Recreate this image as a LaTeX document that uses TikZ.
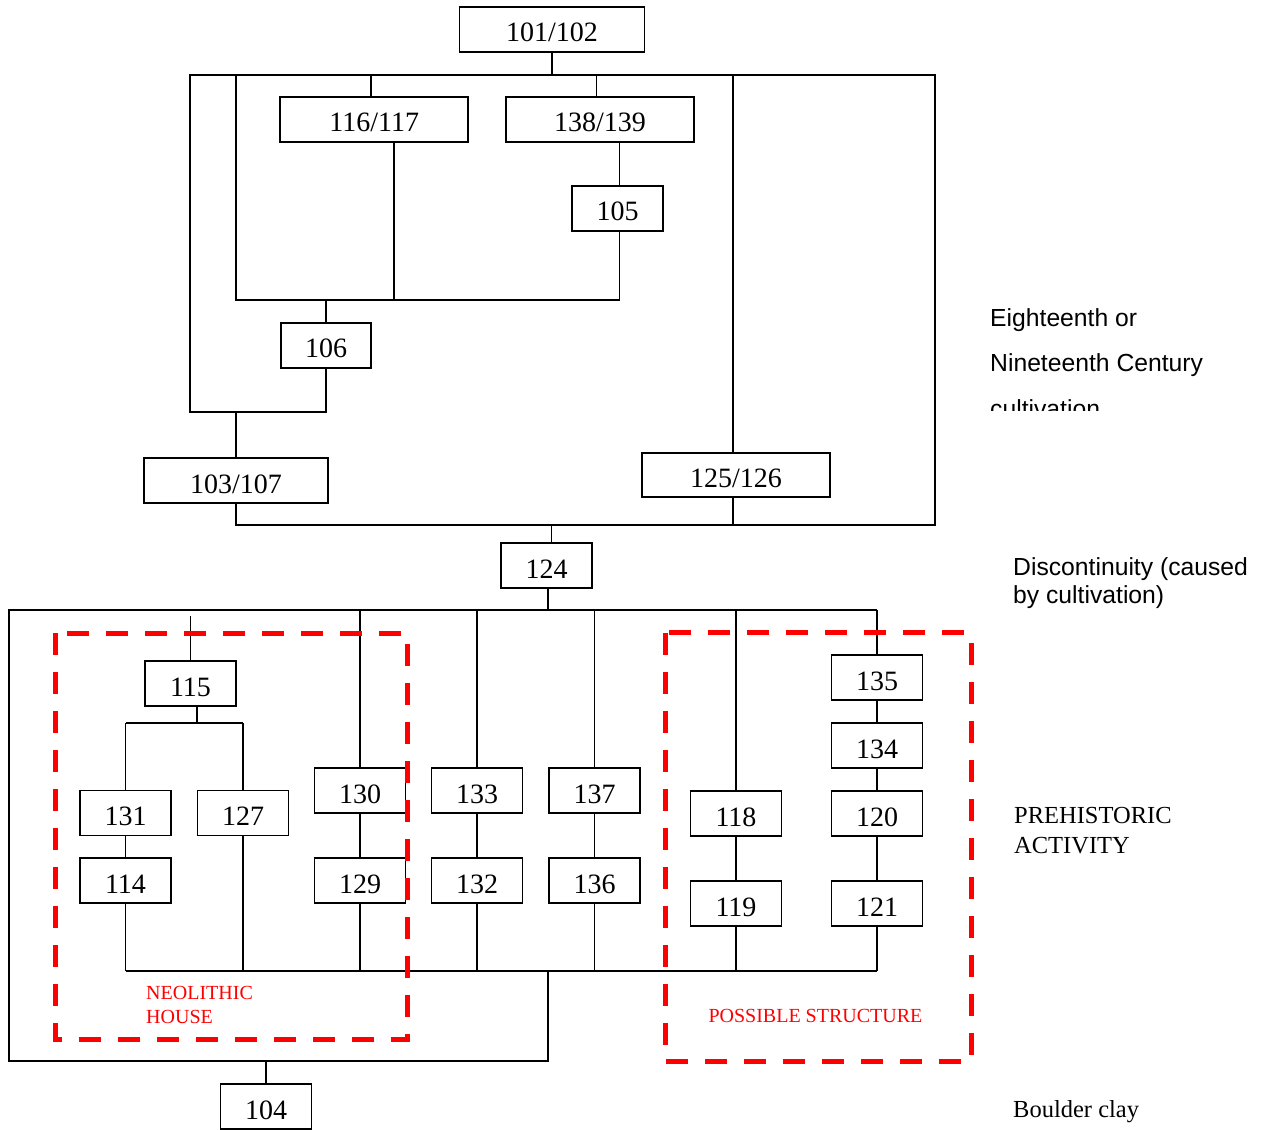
\documentclass[tikz,border=0pt]{standalone}
\usepackage{fontspec}
\setmainfont{Liberation Serif}
\newfontfamily\arialf{Liberation Sans}
\begin{document}
\begin{tikzpicture}[x=1pt,y=-1pt,
  conn/.style={line width=1.6pt, black},
  bx/.style={draw, line width=1.7pt, rectangle, inner sep=0pt,
    minimum height=45pt, minimum width=91pt, text height=25pt, text depth=0pt,
    font=\fontsize{28pt}{28pt}\selectfont},
  wide/.style={minimum width=188pt},
  reddash/.style={draw=red, line width=5pt, dash pattern=on 22pt off 17pt},
  redlbl/.style={text=red, inner sep=0pt, anchor=base west, font=\fontsize{20pt}{20pt}\selectfont},
  serlbl/.style={inner sep=0pt, anchor=base west, font=\fontsize{24.5pt}{24.5pt}\selectfont},
  sanlbl/.style={inner sep=0pt, anchor=base west, font=\arialf\fontsize{24.7pt}{24.7pt}\selectfont}]
\useasboundingbox (0,0) rectangle (1274,1131);
\fill[white] (0,0) rectangle (1274,1131);

% ---------- rails
\coordinate (T75) at (0,75);
\coordinate (T300) at (0,300);
\coordinate (T412) at (0,412);
\coordinate (T525) at (0,525);
\coordinate (rT) at (0,610);
\coordinate (rM) at (0,723);
\coordinate (rB) at (0,971);

% ---------- upper boxes
\node[bx, minimum width=185pt] (b101) at (552,29.5) {101/102};
\node[bx, wide] (b116) at (374.3,119.5) {116/117};
\node[bx, wide] (b138) at (600,119.5) {138/139};
\node[bx] (b105) at (617.5,208.5) {105};
\node[bx, minimum width=90pt] (b106) at (326,345.5) {106};
\node[bx, minimum width=184pt] (b103) at (236,480.5) {103/107};
\node[bx, wide, minimum height=44pt] (b125) at (736,475) {125/126};
\node[bx] (b124) at (546.5,565.5) {124};

% ---------- lower boxes
\node[bx] (b115) at (190.5,683.5) {115};
\node[bx] (b131) at (125.5,813) {131};
\node[bx] (b127) at (243,813) {127};
\node[bx] (b130) at (360,790.5) {130};
\node[bx] (b133) at (477,790.5) {133};
\node[bx] (b137) at (594.5,790.5) {137};
\node[bx] (b118) at (736,813.5) {118};
\node[bx] (b135) at (877,677.5) {135};
\node[bx] (b134) at (877,745.5) {134};
\node[bx] (b120) at (877,813.5) {120};
\node[bx] (b114) at (125.5,880.5) {114};
\node[bx] (b129) at (360,880.5) {129};
\node[bx] (b132) at (477,880.5) {132};
\node[bx] (b136) at (594.5,880.5) {136};
\node[bx] (b119) at (736,903.5) {119};
\node[bx] (b121) at (877,903.5) {121};
\node[bx] (b104) at (266,1106.5) {104};

% ---------- upper connectors
\coordinate (o1) at (190,75);
\coordinate (o2) at (935,75);
\coordinate (o3) at (935,525);
\coordinate (o4) at (190,412);
\coordinate (i1) at (236,75);
\coordinate (i2) at (236,300);
\coordinate (i3) at (619.3,300);
\coordinate (j116) at (393.7,300);
\coordinate (s116n) at ([xshift=-3.6pt]b116.north);
\coordinate (s116s) at ([xshift=19.4pt]b116.south);
\coordinate (s138n) at ([xshift=-3.7pt]b138.north);
\coordinate (s138s) at ([xshift=19.3pt]b138.south);
\coordinate (s105n) at ([xshift=1.8pt]b105.north);
\coordinate (s105s) at ([xshift=1.8pt]b105.south);
\coordinate (s125n) at ([xshift=-3pt]b125.north);
\coordinate (s125s) at ([xshift=-3pt]b125.south);
\coordinate (s124n) at ([xshift=4.8pt]b124.north);
\coordinate (s124s) at ([xshift=1.5pt]b124.south);

\draw[conn] (b101.south) -- (b101.south |- T75);
\draw[conn] (b106.south) -- (b106.south |- T412) -- (o4) -- (o1) -- (o2) -- (o3) -- (b103.south |- T525) -- (b103.south);
\draw[conn] (b103.north) -- (b103.north |- T412);
\draw[conn] (i1) -- (i2) -- (i3) -- (s105s);
\draw[conn] (s105n) -- (s138s);
\draw[conn] (s138n) -- (s138n |- T75);
\draw[conn] (s116n) -- (s116n |- T75);
\draw[conn] (s116s) -- (j116);
\draw[conn] (b106.north) -- (b106.north |- T300);
\draw[conn] (s125n) -- (s125n |- T75);
\draw[conn] (s125s) -- (s125s |- T525);
\draw[conn] (s124n) -- (s124n |- T525);

% ---------- lower connectors
\coordinate (L1) at (9,610);
\coordinate (L2) at (9,1061);
\coordinate (L3) at (548,1061);
\coordinate (L4) at (548,971);
\coordinate (f115) at (190.5,616);
\coordinate (s115) at ([xshift=6.5pt]b115.south);

\draw[conn] (s124s) -- (s124s |- rT);
\draw[conn] (b135.north |- rT) -- (L1) -- (L2) -- (L3) -- (L4);
\draw[conn] (b114.south |- rB) -- (b121.south |- rB);
\draw[conn] (b104.north) -- (b104.north |- L2);

\draw[conn] (f115) -- (b115.north);
\draw[conn] (s115) -- (s115 |- rM);
\draw[conn] (b131.north |- rM) -- (b127.north |- rM);
\draw[conn] (b131.north |- rM) -- (b131.north);
\draw[conn] (b127.north |- rM) -- (b127.north);
\draw[conn] (b131.south) -- (b114.north);
\draw[conn] (b114.south) -- (b114.south |- rB);
\draw[conn] (b127.south) -- (b127.south |- rB);

\draw[conn] (b130.north |- rT) -- (b130.north);
\draw[conn] (b130.south) -- (b129.north);
\draw[conn] (b129.south) -- (b129.south |- rB);
\draw[conn] (b133.north |- rT) -- (b133.north);
\draw[conn] (b133.south) -- (b132.north);
\draw[conn] (b132.south) -- (b132.south |- rB);
\draw[conn] (b137.north |- rT) -- (b137.north);
\draw[conn] (b137.south) -- (b136.north);
\draw[conn] (b136.south) -- (b136.south |- rB);
\draw[conn] (b118.north |- rT) -- (b118.north);
\draw[conn] (b118.south) -- (b119.north);
\draw[conn] (b119.south) -- (b119.south |- rB);
\draw[conn] (b135.north |- rT) -- (b135.north);
\draw[conn] (b135.south) -- (b134.north);
\draw[conn] (b134.south) -- (b120.north);
\draw[conn] (b120.south) -- (b121.north);
\draw[conn] (b121.south) -- (b121.south |- rB);

% ---------- red dashed groups
\draw[reddash] (55.6,633.3) rectangle (407.4,1039);
\draw[reddash] (665.8,632.7) rectangle (971,1061.5);

% ---------- labels
\node[redlbl] (neo1) at (146,999) {NEOLITHIC};
\node[redlbl] (neo2) at (146,1023) {HOUSE};
\node[redlbl] (poss) at (708.3,1022.7) {POSSIBLE STRUCTURE};

\begin{scope}
\clip (980,290) rectangle (1274,410);
\node[sanlbl] (e1) at (990,327) {Eighteenth or};
\node[sanlbl] (e2) at (990,372) {Nineteenth Century};
\node[sanlbl] (e3) at (990,417) {cultivation};
\end{scope}
\node[sanlbl] (d1) at (1013,575) {Discontinuity (caused};
\node[sanlbl] (d2) at (1013,603) {by cultivation)};
\node[serlbl] (p1) at (1014,823) {PREHISTORIC};
\node[serlbl] (p2) at (1014,853) {ACTIVITY};
\node[serlbl] (bc) at (1013,1117) {Boulder clay};
\end{tikzpicture}
\end{document}
